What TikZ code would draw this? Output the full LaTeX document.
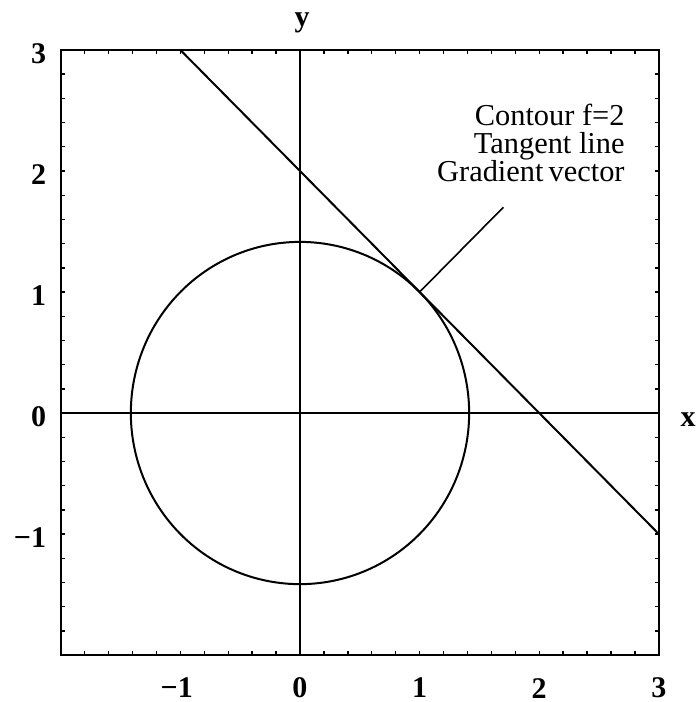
\documentclass[tikz,border=0pt]{standalone}
\usepackage{fontspec}
\setmainfont{Liberation Serif}
\begin{document}
\begin{tikzpicture}[x=59.8pt,y=60.5pt,
  frame/.style={line width=1.1pt},
  curve/.style={line width=1pt},
  axisline/.style={line width=0.8pt},
  tickmark/.style={line width=0.7pt},
  ticklab/.style={font=\fontsize{15}{17}\selectfont\bfseries, inner sep=0pt},
  axlab/.style={font=\fontsize{15}{17}\selectfont\bfseries, inner sep=0pt},
  legend/.style={font=\fontsize{15.2}{14}\selectfont, inner sep=0pt, align=right, anchor=north east}]
\useasboundingbox (-2.508,-2.388) rectangle (3.311,3.413);
% frame
\draw[frame] (-2,-2) rectangle (3,3);
% minor ticks
\foreach \k in {1,...,24} {
  \pgfmathsetmacro\tt{-2+0.2*\k}
  \draw[tickmark] (\tt,-2) -- ++(0pt,2pt);
  \draw[tickmark] (\tt,3) -- ++(0pt,-2pt);
  \draw[tickmark] (-2,\tt) -- ++(2pt,0pt);
  \draw[tickmark] (3,\tt) -- ++(-2pt,0pt);
}
% axes
\draw[axisline] (-2,0) -- (3,0);
\draw[axisline] (0,-2) -- (0,3);
% contour f=2
\draw[curve] plot[domain=0:360,samples=120,smooth] ({1.41421*cos(\x)},{1.41421*sin(\x)});
% tangent line
\coordinate (t1) at (-1,3);
\coordinate (t2) at (3,-1);
\draw[curve] (t1) -- (t2);
% gradient vector
\coordinate (p) at (1,1);
\coordinate (g) at (1.7,1.7);
\draw[axisline] (p) -- (g);
% tick labels
\node[ticklab] (xm1) at (-1.03,-2.273) {−1};
\foreach \v/\n in {0/x0,1/x1,2/x2,3/x3} {
  \node[ticklab] (\n) at (\v,-2.273) {\v};
}
\node[ticklab, anchor=east] (ym1) at (-2.12,-1.03) {−1};
\foreach \v/\n in {0/y0,1/y1,2/y2,3/y3} {
  \node[ticklab, anchor=east] (\n) at (-2.12,\v-0.03) {\v};
}
% axis labels
\node[axlab, anchor=base] (ylab) at (0.017,3.19) {y};
\node[axlab] (xlab) at (3.244,-0.058) {x};
% legend
\node[legend] (leg) at (2.717,2.56) {Contour f=2\\Tangent line\\Gradient\,vector};
\end{tikzpicture}
\end{document}
